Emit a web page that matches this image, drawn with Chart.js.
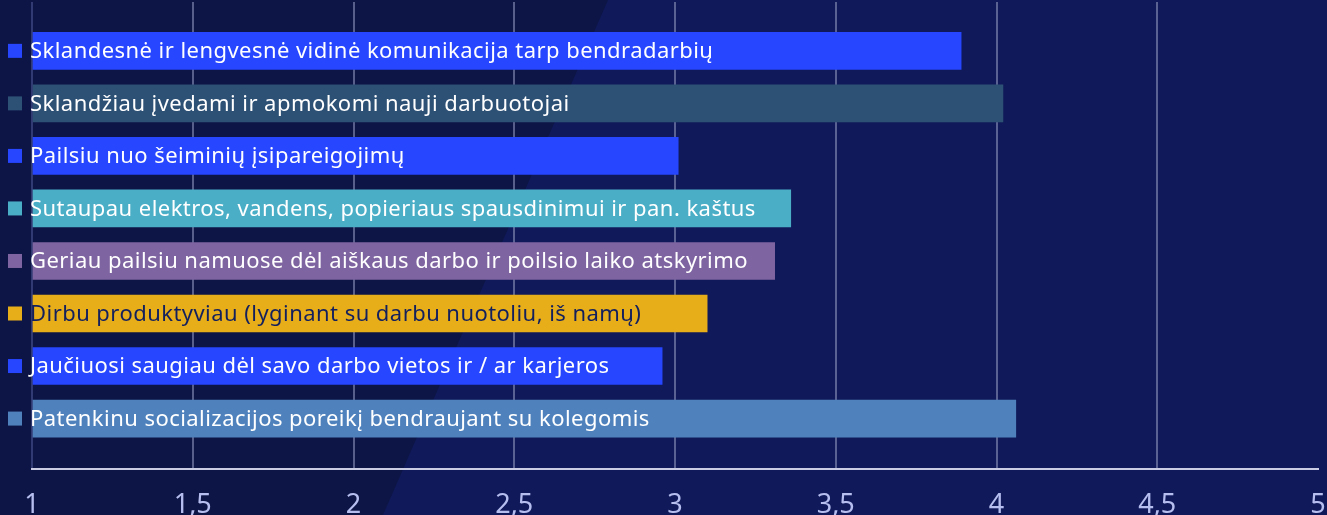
<!DOCTYPE html>
<html>
<head>
<meta charset="utf-8">
<script src="https://cdn.jsdelivr.net/npm/chart.js@4"></script>
<style>
	body { margin: 0; background: #101a5a; }
	#wrap { width: 1327px; height: 515px; position: relative; }
</style>
</head>
<body>
<div id="wrap"><canvas id="barChart"></canvas></div>
<script>
const categories = [
	'Sklandesnė ir lengvesnė vidinė komunikacija tarp bendradarbių',
	'Sklandžiau įvedami ir apmokomi nauji darbuotojai',
	'Pailsiu nuo šeiminių įsipareigojimų',
	'Sutaupau elektros, vandens, popieriaus spausdinimui ir pan. kaštus',
	'Geriau pailsiu namuose dėl aiškaus darbo ir poilsio laiko atskyrimo',
	'Dirbu produktyviau (lyginant su darbu nuotoliu, iš namų)',
	'Jaučiuosi saugiau dėl savo darbo vietos ir / ar karjeros',
	'Patenkinu socializacijos poreikį bendraujant su kolegomis'
];
const values = [3.89, 4.02, 3.01, 3.36, 3.31, 3.10, 2.96, 4.06];
const barColors = ['#2646ff', '#2d5075', '#2646ff', '#4aaec7', '#7e64a0', '#e8ae1a', '#2646ff', '#4f82bd'];
const textColors = ['#ffffff', '#ffffff', '#ffffff', '#ffffff', '#ffffff', '#13205e', '#ffffff', '#ffffff'];
const xTicks = [1, 1.5, 2, 2.5, 3, 3.5, 4, 4.5, 5];

// background with the darker diagonal panel on the left
const backdrop = {
	id: 'backdrop',
	beforeDraw: (chart) => {
		let ctx = chart.ctx;
		ctx.save();
		ctx.fillStyle = '#101a5a';
		ctx.fillRect(0, 0, chart.width, chart.height);
		ctx.fillStyle = '#0d1546';
		ctx.beginPath();
		ctx.moveTo(0, 0);
		ctx.lineTo(608, 0);
		ctx.lineTo(383, chart.height);
		ctx.lineTo(0, chart.height);
		ctx.closePath();
		ctx.fill();
		ctx.restore();
	}
};

// category names written inside the bars, with a small colour square
const barLabels = {
	id: 'barLabels',
	afterDatasetsDraw: (chart) => {
		let ctx = chart.ctx;
		let meta = chart.getDatasetMeta(0);
		ctx.save();
		ctx.font = '22px "Noto Sans"';
		ctx.letterSpacing = '0.45px';
		ctx.textBaseline = 'middle';
		ctx.textAlign = 'left';
		meta.data.forEach((bar, i) => {
			ctx.fillStyle = barColors[i];
			ctx.fillRect(8, bar.y - 7, 14, 14);
			ctx.fillStyle = textColors[i];
			ctx.fillText(categories[i], 30, bar.y + 1);
		});
		ctx.restore();
	}
};

const ctx = document.getElementById('barChart').getContext('2d');
const myChart = new Chart(ctx, {
	type: 'bar',
	data: {
		labels: categories,
		datasets: [{
			data: values.map((v, i) => ({ x: v, y: i })),
			backgroundColor: barColors,
			base: 1,
			barThickness: 37
		}]
	},
	options: {
		indexAxis: 'y',
		responsive: true,
		maintainAspectRatio: false,
		animation: false,
		layout: { padding: { left: 32, right: 9, top: 2, bottom: 0 } },
		scales: {
			x: {
				type: 'linear',
				min: 1,
				max: 5,
				afterBuildTicks: (axis) => {
					axis.ticks = xTicks.map((v) => ({ value: v }));
				},
				afterFit: (axis) => {
					axis.height = 46;
					axis.paddingLeft = 0;
					axis.paddingRight = 0;
				},
				grid: {
					drawTicks: false,
					lineWidth: 2,
					color: (c) => {
						if (c.tick && c.tick.value === 5) return 'rgba(0,0,0,0)';
						if (c.tick && c.tick.value === 1) return 'rgba(120,130,200,0.35)';
						return 'rgba(140,145,185,0.6)';
					}
				},
				border: { display: true, color: '#c9cce2', width: 2 },
				ticks: {
					color: '#b6bdef',
					padding: 20,
					font: { family: '"Noto Sans"', size: 27 },
					callback: (v) => String(v).replace('.', ',')
				}
			},
			y: {
				type: 'linear',
				display: false,
				offset: false,
				reverse: true,
				min: -0.93,
				max: 7.96
			}
		},
		plugins: {
			legend: { display: false },
			tooltip: { enabled: false }
		}
	},
	plugins: [backdrop, barLabels]
});
</script>
</body>
</html>
